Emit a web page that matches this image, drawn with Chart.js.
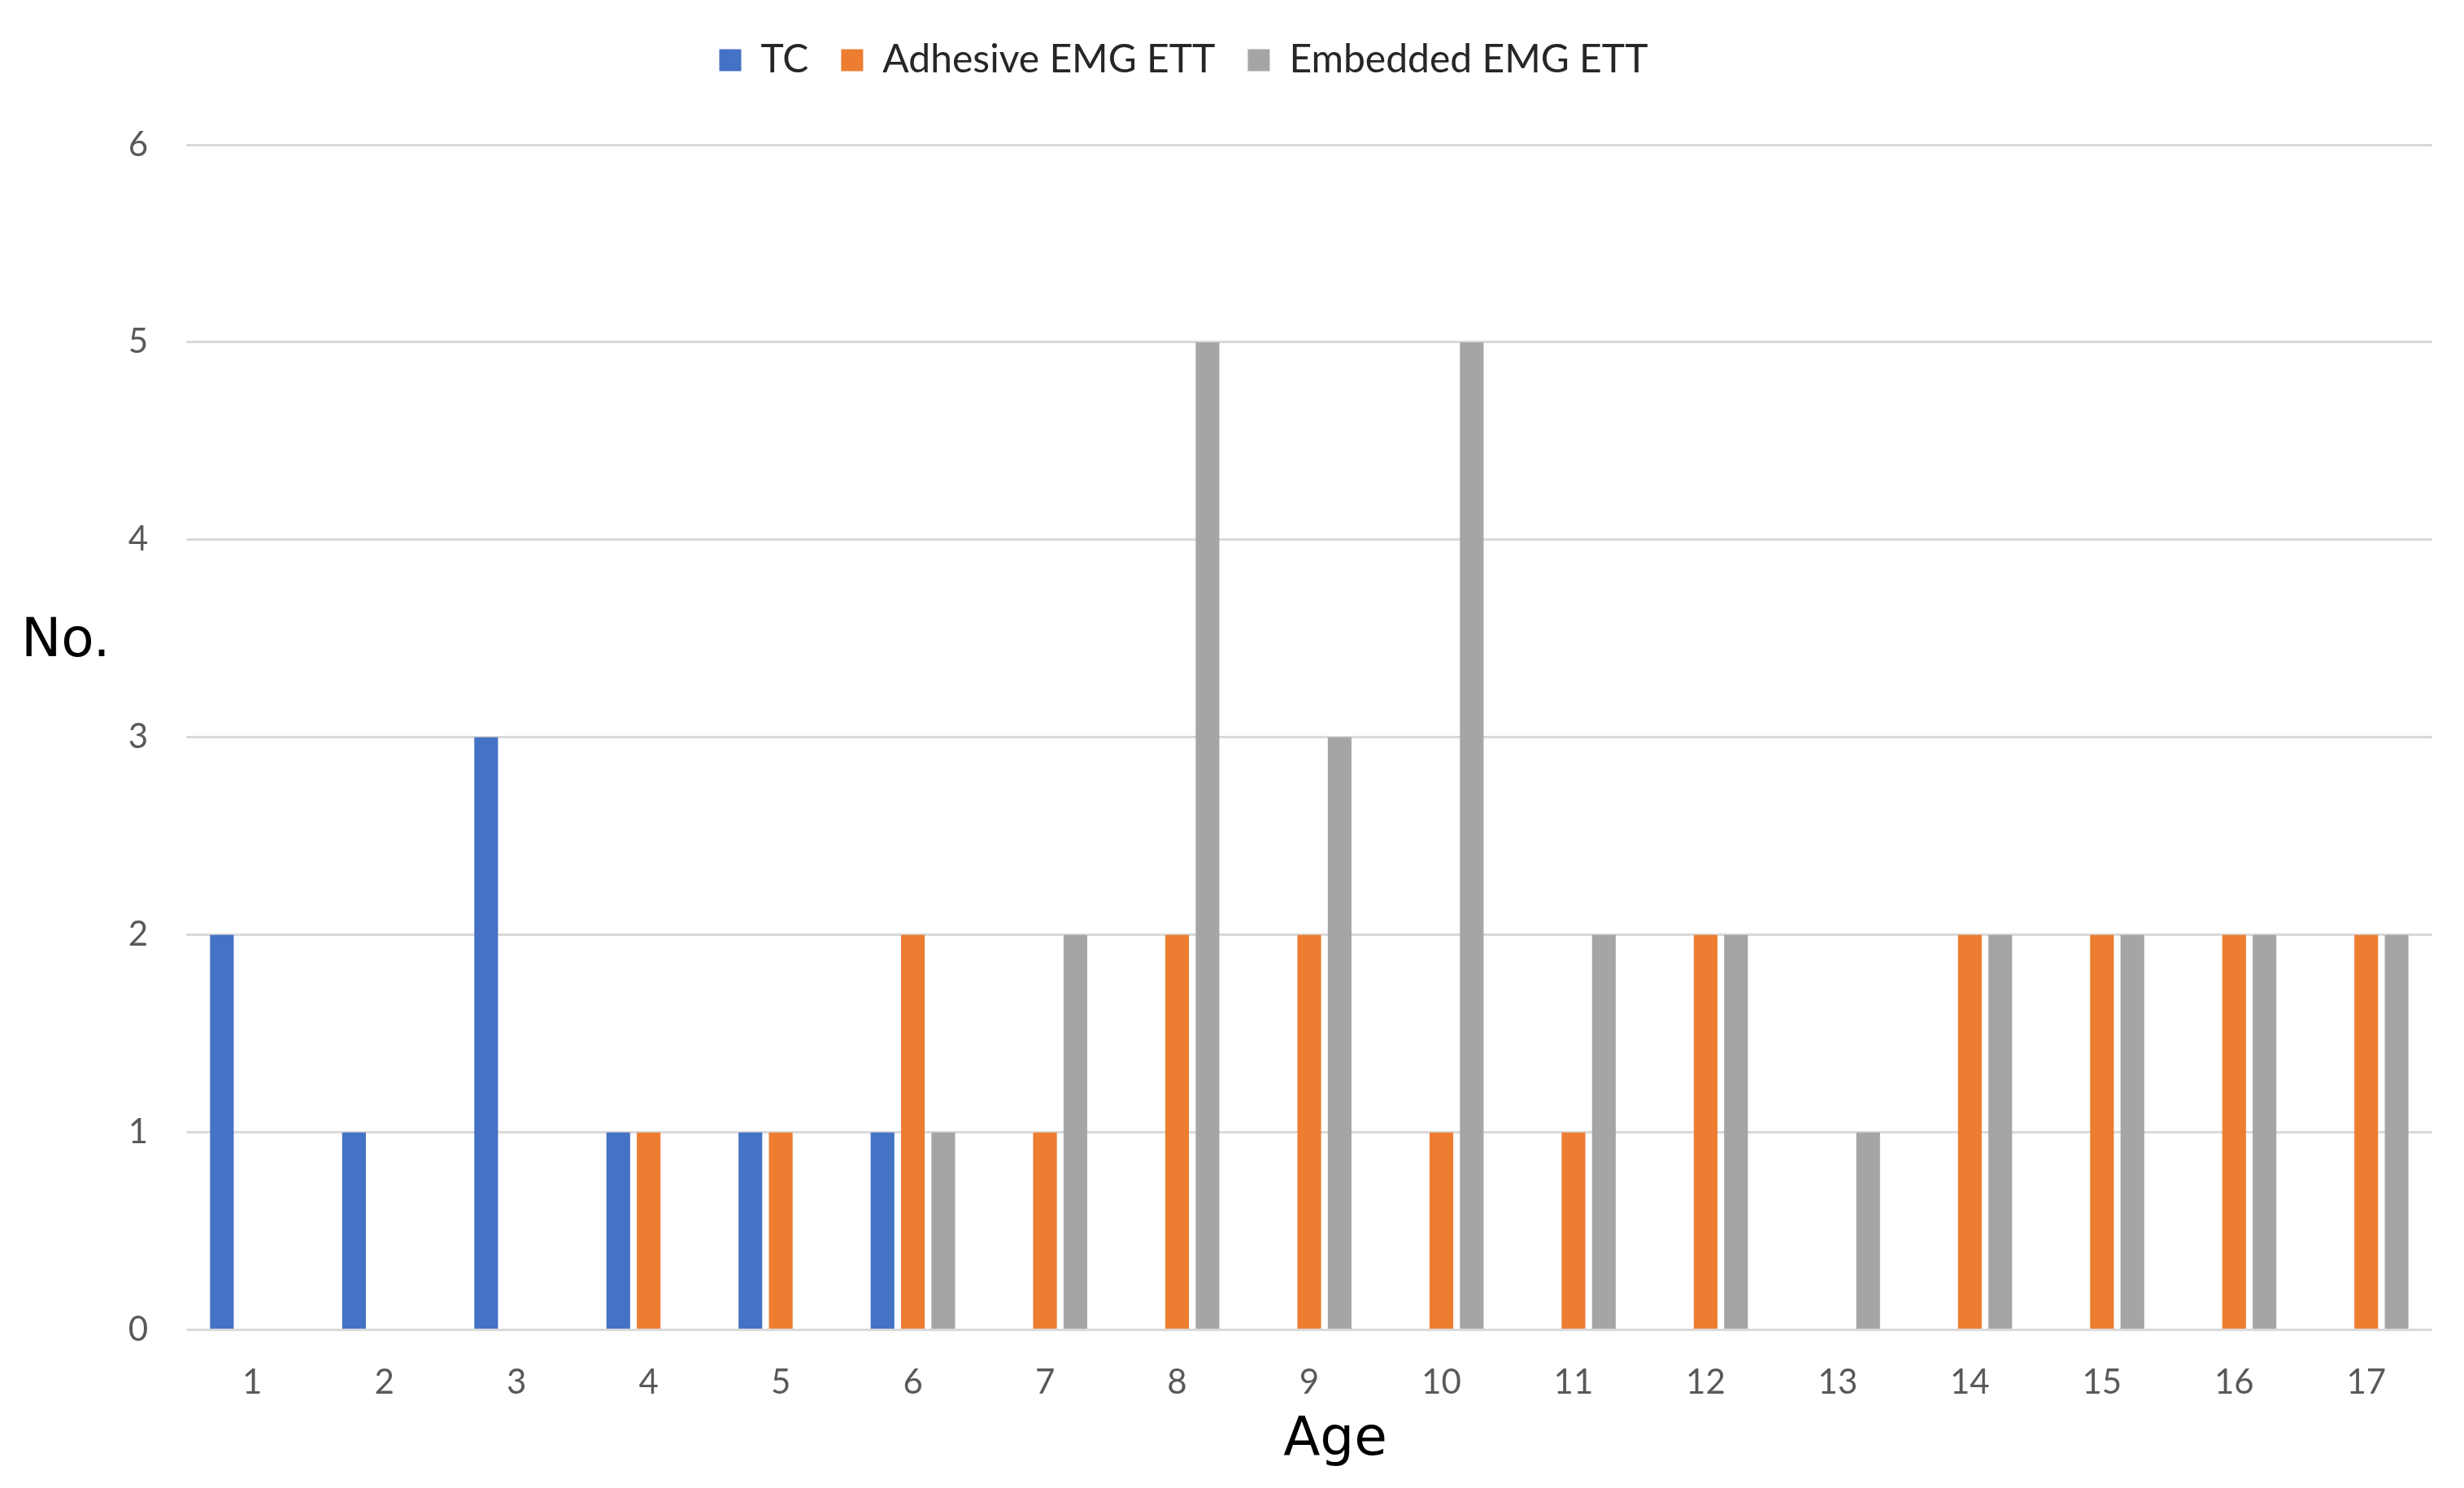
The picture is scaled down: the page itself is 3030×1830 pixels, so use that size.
<!DOCTYPE html>
<html>
<head>
<meta charset="utf-8">
<script src="https://cdn.jsdelivr.net/npm/chart.js@4"></script>
<style>
  body { margin: 0; background: #fff; }
  canvas { display: block; }
</style>
</head>
<body>
<canvas id="myChart" width="3030" height="1830"></canvas>
<script>
ages = ["1", "2", "3", "4", "5", "6", "7", "8", "9", "10", "11", "12", "13", "14", "15", "16", "17"]
tc = [2, 1, 3, 1, 1, 1, 0, 0, 0, 0, 0, 0, 0, 0, 0, 0, 0]
adhesive = [0, 0, 0, 1, 1, 2, 1, 2, 2, 1, 1, 2, 0, 2, 2, 2, 2]
embedded = [0, 0, 0, 0, 0, 1, 2, 5, 3, 5, 2, 2, 1, 2, 2, 2, 2]
yTicks = [0, 1, 2, 3, 4, 5, 6]

color_palette = ["#4472C4", "#ED7D31", "#A5A5A5"]

// axis titles drawn by hand: "No." is horizontal, "Age" sits a bit right of centre
const axisTitles = {
    id: 'axisTitles',
    beforeInit(chart) {
        // extra room under the legend
        const fit = chart.legend.fit;
        chart.legend.fit = function () {
            fit.bind(chart.legend)();
            this.height += 70;
        };
    },
    afterLayout(chart) {
        chart.legend.left -= 40;
        chart.legend.right -= 40;
    },
    afterDraw(chart) {
        const ctx = chart.ctx;
        const area = chart.chartArea;
        ctx.save();
        ctx.font = '66px "DejaVu Sans"';
        ctx.fillStyle = '#000';
        ctx.textBaseline = 'middle';
        ctx.textAlign = 'left';
        ctx.fillText('No.', 26, area.top + (area.bottom - area.top) * 0.42);
        ctx.textAlign = 'center';
        ctx.fillText('Age', (area.left + area.right) / 2 + 32, 1772);
        ctx.restore();
    }
};

function plotBarChart() {
    let myChart = document.getElementById('myChart').getContext('2d');
    let barChart = new Chart(myChart, {
        type: 'bar',
        data: {
            labels: ages,
            datasets: [
                { label: "TC", data: tc, backgroundColor: color_palette[0] },
                { label: "Adhesive EMG ETT", data: adhesive, backgroundColor: color_palette[1] },
                { label: "Embedded EMG ETT", data: embedded, backgroundColor: color_palette[2] }
            ]
        },
        options: {
            responsive: false,
            animation: false,
            devicePixelRatio: 1,
            layout: { padding: { left: 0, right: 39, top: 10, bottom: 72 } },
            datasets: { bar: { categoryPercentage: 0.69, barPercentage: 0.78 } },
            plugins: {
                legend: {
                    position: 'top',
                    labels: {
                        font: { family: 'Lato', size: 48 },
                        color: '#262626',
                        boxWidth: 27,
                        boxHeight: 27,
                        padding: 40
                    }
                },
                tooltip: { enabled: false }
            },
            scales: {
                x: {
                    grid: { display: false },
                    border: { display: false },
                    ticks: { font: { family: 'Lato', size: 42 }, color: '#595959', padding: 32 }
                },
                y: {
                    min: 0,
                    max: 6,
                    afterBuildTicks: axis => { axis.ticks = yTicks.map(v => ({ value: v })); },
                    afterFit: axis => { axis.width = 229; },
                    grid: { color: '#D9D9D9', lineWidth: 3, drawTicks: false },
                    border: { display: false },
                    ticks: { font: { family: 'Lato', size: 42 }, color: '#595959', padding: 47 }
                }
            }
        },
        plugins: [axisTitles]
    });
    return barChart;
}

plotBarChart()
</script>
</body>
</html>
